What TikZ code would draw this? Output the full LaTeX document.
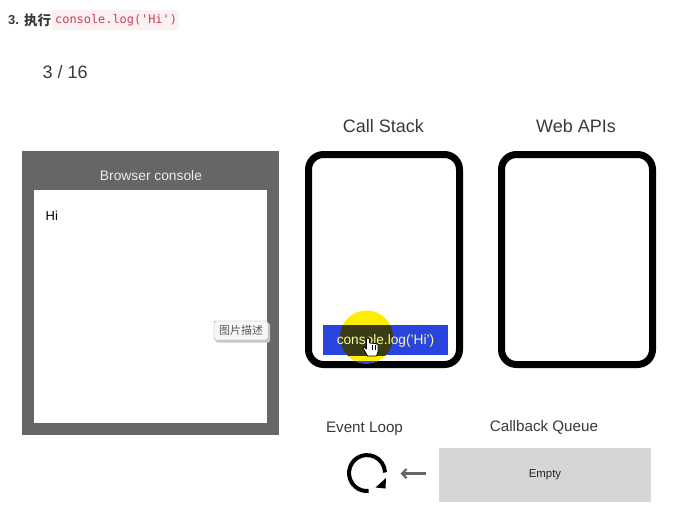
\documentclass[tikz,border=0pt]{standalone}
\usepackage{fontspec}
\setmainfont{Liberation Sans}
\setmonofont{DejaVu Sans Mono}
\newfontfamily\cjk{Noto Sans CJK SC}
\usetikzlibrary{arrows.meta}
\definecolor{txt}{HTML}{3A3A3A}
\definecolor{codered}{HTML}{C7405A}
\definecolor{codebg}{HTML}{FBF1F3}
\definecolor{panel}{HTML}{666666}
\definecolor{bluebar}{HTML}{2A44E0}
\definecolor{olive}{HTML}{3A3D14}
\definecolor{qgrey}{HTML}{D6D6D8}
\tikzset{
  lab/.style={text=txt,inner sep=0pt,anchor=center,font=\fontsize{18}{21}\selectfont},
  sublab/.style={text=txt,inner sep=0pt,anchor=center,font=\fontsize{15.2}{18}\selectfont},
  phone/.style={draw=black,line width=7pt,rounded corners=15pt,fill=white},
}
\begin{document}
\begin{tikzpicture}[x=1pt,y=-1pt]
\useasboundingbox (0,0) rectangle (685,504);
\fill[white] (0,0) rectangle (685,504);
% heading
\fill[codebg,rounded corners=2pt] (52,10) rectangle (178,30);
\node[inner sep=0pt,anchor=west,text=txt] (hd) at (8,20) {\fontsize{13}{15}\selectfont\textbf{3.}};
\node[inner sep=0pt,anchor=west,text=txt] (hdz) at (24,20) {\cjk\fontsize{13.5}{15}\selectfont\bfseries 执行};
\node[inner sep=0pt,anchor=west,text=codered] (code) at (55,20) {\ttfamily\fontsize{11.9}{14}\selectfont console.log('Hi')};
\node[lab,anchor=west] (count) at (42.5,72.5) {3 / 16};
% browser console
\fill[panel] (22,151) rectangle (279,435);
\fill[white] (34,190) rectangle (267,423);
\node[inner sep=0pt,text=white!92!black] (bc) at (151,176) {\fontsize{13.8}{16}\selectfont Browser console};
\node[inner sep=0pt,anchor=west,text=black] (hi) at (45.5,216) {\fontsize{13}{15}\selectfont Hi};
% stacks
\node[lab] (cs) at (383.5,126.5) {Call Stack};
\node[lab] (wa) at (576,126.5) {Web APIs};
\draw[phone] (308.5,154.5) rectangle (459.5,364.5);
\draw[phone] (501.5,154.5) rectangle (652.5,364.5);
% highlighted frame
\fill[yellow!95!orange] (366.5,337) circle (26.5);
\begin{scope}
\clip (366.5,337) circle (26.5);
\fill[bluebar] (340,361) rectangle (393,365);
\end{scope}
\fill[bluebar] (322.5,325) rectangle (448,355);
\begin{scope}
\clip (322.5,325) rectangle (448,355);
\fill[olive] (366.5,337) circle (26.5);
\end{scope}
\node[inner sep=0pt,text=yellow!40!white] (lg) at (385.5,340.5) {\fontsize{13.7}{16}\selectfont console.log('Hi')};
% hand cursor
\fill[white,draw=black,line width=.8pt,line join=round] (366.5,339) -- (366.5,349) -- (364,346.5) -- (363,348) -- (367.5,356) -- (376.5,356) -- (378,351.5) -- (378,344.5) -- (375.5,343.5) -- (369.5,343) -- (369.5,339) .. controls (369,337) and (367,337) .. (366.5,339) -- cycle;
\draw[black,line width=.5pt] (371.8,345) -- (371.8,350) (374.8,345) -- (374.8,350);
% tooltip
\fill[black!22,rounded corners=2pt] (215.5,323) rectangle (270,342.5);
\node[draw=black!40,fill=black!3,rounded corners=2pt,minimum width=54pt,minimum height=19pt,inner sep=0pt,text=black!65] (tip) at (241,330.5) {\cjk\fontsize{11}{13}\selectfont 图片描述};
% queue
\node[sublab] (el) at (364.5,428.5) {Event Loop};
\node[sublab] (cq) at (544,427.5) {Callback Queue};
\node[fill=qgrey,minimum width=212pt,minimum height=54pt,inner sep=0pt,text=black!85] (q) at (545,475) {\raisebox{-1pt}{\fontsize{11.4}{13}\selectfont Empty}};
\coordinate (loop) at (367,473);
\coordinate (arrowend) at (400.5,473.5);
\draw[line width=2.2pt,draw=black!60,-{Straight Barb[length=4.5pt,width=9pt]}] (426,473.5) -- (arrowend);
\draw[line width=4pt,black] (368.6,491) arc[start angle=85,end angle=358,radius=18];
\fill[black] (375.5,487.5) -- (386,478) -- (385.5,488.5) -- cycle;
\end{tikzpicture}
\end{document}
